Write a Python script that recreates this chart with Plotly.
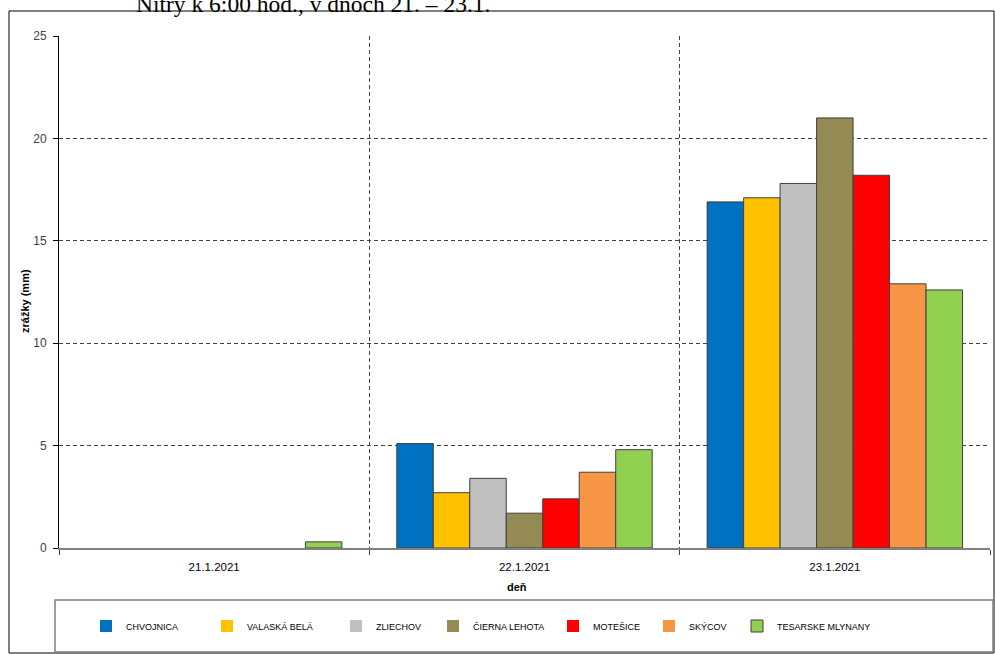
import plotly.graph_objects as go

days = ["21.1.2021", "22.1.2021", "23.1.2021"]
stations = ["CHVOJNICA", "VALASKÁ BELÁ", "ZLIECHOV", "ČIERNA LEHOTA", "MOTEŠICE", "SKÝCOV", "TESARSKE MLYNANY"]
colors = ["#0070C0", "#FFC000", "#C0C0C0", "#948A54", "#FF0000", "#F79646", "#92D050"]
chvojnica = [0.0, 5.1, 16.9]
valaska_bela = [0.0, 2.7, 17.1]
zliechov = [0.0, 3.4, 17.8]
cierna_lehota = [0.0, 1.7, 21.0]
motesice = [0.0, 2.4, 18.2]
skycov = [0.0, 3.7, 12.9]
tesarske_mlynany = [0.3, 4.8, 12.6]
series = [chvojnica, valaska_bela, zliechov, cierna_lehota, motesice, skycov, tesarske_mlynany]
y_ticks = [0, 5, 10, 15, 20, 25]

W, H = 995, 654
L, R, T, B = 59, 5, 36, 106
PW, PH = W - L - R, H - T - B

def px_x(p):
    return (p - L) / PW

def px_y(p):
    return (H - B - p) / PH

# legend text start positions (pixels)
legend_text_x = [122, 243, 372, 469, 589, 685, 773]

fig = go.Figure()
for i, (name, vals, col) in enumerate(zip(stations, series, colors)):
    lg = "legend" if i == 0 else f"legend{i+1}"
    fig.add_trace(go.Bar(
        x=days, y=vals, name=name,
        marker=dict(color=col, line=dict(color="#404040",
                                         width=[1 if v > 0 else 0 for v in vals])),
        legend=lg,
    ))

font = "Liberation Sans"
layout_legends = {}
for i in range(len(stations)):
    key = "legend" if i == 0 else f"legend{i+1}"
    layout_legends[key] = dict(
        x=px_x(legend_text_x[i] - 36), y=px_y(626), xref="paper", yref="paper",
        xanchor="left", yanchor="middle", bgcolor="rgba(0,0,0,0)",
        borderwidth=0, font=dict(family=font, size=9, color="#000000"),
        itemwidth=30, itemclick=False, itemdoubleclick=False,
    )

fig.update_layout(
    width=W, height=H,
    margin=dict(l=L, r=R, t=T, b=B, autoexpand=False),
    paper_bgcolor="white", plot_bgcolor="white",
    barmode="group", bargap=0.177, bargroupgap=0,
    showlegend=True,
    font=dict(family=font, size=11, color="#404040"),
    xaxis=dict(
        type="category", tickson="boundaries", showgrid=True,
        gridcolor="#404040", griddash="4px,3px", gridwidth=1,
        ticks="outside", ticklen=5, tickcolor="#404040",
        showline=True, linecolor="#808080", linewidth=1.5,
        ticklabelstandoff=7,
        tickfont=dict(family=font, size=11.5, color="#000000"),
        automargin=False,
    ),
    yaxis=dict(
        range=[0, 25], tickvals=y_ticks, showgrid=True,
        gridcolor="#404040", griddash="4px,3px", gridwidth=1,
        zeroline=False, showline=True, linecolor="#000000", linewidth=1,
        ticks="outside", ticklen=5, tickcolor="#000000",
        ticklabelstandoff=4,
        tickfont=dict(family=font, size=12, color="#404040"),
        automargin=False,
    ),
    **layout_legends,
)

# axis titles
fig.add_annotation(text="<b>deň</b>", xref="paper", yref="paper",
                   x=px_x(517), y=px_y(587), xanchor="center", yanchor="middle", showarrow=False,
                   font=dict(family=font, size=11, color="#000000"))
fig.add_annotation(text="<b>zrážky (mm)</b>", xref="paper", yref="paper", textangle=-90,
                   x=px_x(25), y=px_y(301), xanchor="center", yanchor="middle", showarrow=False,
                   font=dict(family=font, size=11, color="#000000"))

# outer chart border
fig.add_shape(type="rect", xref="paper", yref="paper",
              x0=px_x(9), x1=px_x(994), y0=px_y(653), y1=px_y(11),
              line=dict(color="#000000", width=1), fillcolor="rgba(0,0,0,0)", layer="below")
# legend box
fig.add_shape(type="rect", xref="paper", yref="paper",
              x0=px_x(55), x1=px_x(993), y0=px_y(652), y1=px_y(600),
              line=dict(color="#808080", width=1.5), fillcolor="rgba(0,0,0,0)", layer="below")

# clipped heading text from the page above the chart
fig.add_annotation(text="Nitry k 6:00 hod., v dňoch 21. – 23.1.", xref="paper", yref="paper",
                   x=px_x(134), y=px_y(19), xanchor="left", yanchor="bottom", showarrow=False,
                   font=dict(family="Liberation Serif", size=23.5, color="#000000"))

fig.write_html("out.html")
